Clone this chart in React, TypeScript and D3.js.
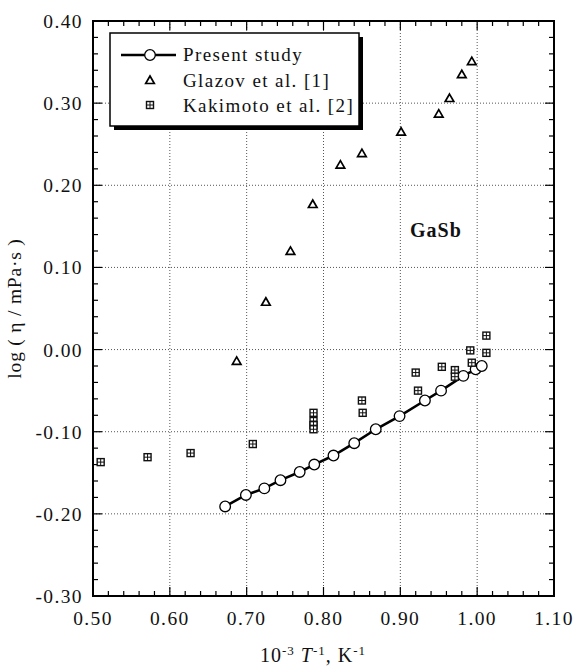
import React from "react";
import * as d3 from "d3";

// present study (circles + line)
const presentX = [0.672, 0.699, 0.723, 0.744, 0.769, 0.788, 0.813, 0.84, 0.868, 0.899, 0.932, 0.953, 0.982, 0.998, 1.006];
const presentY = [-0.191, -0.177, -0.169, -0.159, -0.149, -0.14, -0.129, -0.114, -0.097, -0.081, -0.062, -0.05, -0.032, -0.024, -0.02];

// Glazov et al. [1]
const glazovX = [0.687, 0.725, 0.757, 0.786, 0.822, 0.85, 0.901, 0.95, 0.964, 0.98, 0.993];
const glazovY = [-0.015, 0.057, 0.119, 0.176, 0.224, 0.238, 0.264, 0.286, 0.305, 0.334, 0.35];

// Kakimoto et al. [2]
const kakiX = [0.51, 0.571, 0.627, 0.708, 0.787, 0.787, 0.787, 0.787, 0.85, 0.851, 0.92, 0.923, 0.954, 0.971, 0.971, 0.991, 0.993, 1.012, 1.012];
const kakiY = [-0.137, -0.131, -0.126, -0.115, -0.077, -0.087, -0.092, -0.097, -0.062, -0.077, -0.028, -0.05, -0.021, -0.025, -0.033, -0.001, -0.016, 0.017, -0.004];

const xTicks = [0.5, 0.6, 0.7, 0.8, 0.9, 1.0, 1.1];
const yTicks = [-0.3, -0.2, -0.1, 0.0, 0.1, 0.2, 0.3, 0.4];

const W = 578;
const H = 668;
const L = 93, R = 554, T = 21, B = 596;
const FONT = "'Liberation Serif', 'Times New Roman', serif";

// hyphen instead of unicode minus, like the original
const fmt = (v: number) => d3.format(".2f")(v).replace("−", "-");

export default function App() {
  const x = d3.scaleLinear().domain([0.5, 1.1]).range([L, R]);
  const y = d3.scaleLinear().domain([-0.3, 0.4]).range([B, T]);

  const minorX = d3.range(0, 31).map((i) => 0.5 + i * 0.02);
  const minorY = d3.range(0, 36).map((i) => -0.3 + i * 0.02);

  const present = presentX.map((v, i) => [v, presentY[i]] as [number, number]);
  const glazov = glazovX.map((v, i) => [v, glazovY[i]] as [number, number]);
  const kaki = kakiX.map((v, i) => [v, kakiY[i]] as [number, number]);

  const line = d3.line<[number, number]>().x((d) => x(d[0])).y((d) => y(d[1]));
  const tri = d3.symbol(d3.symbolTriangle, 32)() as string;

  const Square = ({ cx, cy }: { cx: number; cy: number }) => (
    <g transform={`translate(${cx},${cy})`}>
      <rect x={-3.5} y={-3.5} width={7} height={7} fill="#fff" stroke="#111" strokeWidth={1.4} />
      <line x1={-3.5} x2={3.5} y1={0} y2={0} stroke="#111" strokeWidth={1} />
      <line x1={0} x2={0} y1={-3.5} y2={3.5} stroke="#111" strokeWidth={1} />
    </g>
  );

  const isMajor = (v: number) => Math.abs(v * 10 - Math.round(v * 10)) < 1e-6;

  return (
    <svg width={W} height={H} style={{ position: "absolute", left: 0, top: 0 }} fontFamily={FONT}>
      <rect width={W} height={H} fill="#fff" />
      {/* grid */}
      <g stroke="#555" strokeWidth={1} strokeDasharray="1,2">
        {xTicks.slice(1, -1).map((t) => (
          <line key={"gx" + t} x1={x(t)} x2={x(t)} y1={T} y2={B} />
        ))}
        {yTicks.slice(1, -1).map((t) => (
          <line key={"gy" + t} x1={L} x2={R} y1={y(t)} y2={y(t)} />
        ))}
      </g>
      {/* ticks */}
      <g stroke="#000" strokeWidth={1.2}>
        {minorX.map((t) => {
          const len = isMajor(t) ? 9 : 5;
          return (
            <g key={"tx" + t}>
              <line x1={x(t)} x2={x(t)} y1={B} y2={B - len} />
              <line x1={x(t)} x2={x(t)} y1={T} y2={T + len} />
            </g>
          );
        })}
        {minorY.map((t) => {
          const len = isMajor(t) ? 9 : 5;
          return (
            <g key={"ty" + t}>
              <line x1={L} x2={L + len} y1={y(t)} y2={y(t)} />
              <line x1={R} x2={R - len} y1={y(t)} y2={y(t)} />
            </g>
          );
        })}
      </g>
      <rect x={L} y={T} width={R - L} height={B - T} fill="none" stroke="#000" strokeWidth={2} />
      {/* tick labels */}
      <g fontSize={19.5} fill="#111" letterSpacing={1.4}>
        {xTicks.map((t) => (
          <text key={"lx" + t} x={x(t)} y={B + 29} textAnchor="middle">
            {fmt(t)}
          </text>
        ))}
        {yTicks.map((t) => (
          <text key={"ly" + t} x={L - 10} y={y(t) + 7} textAnchor="end">
            {fmt(t)}
          </text>
        ))}
      </g>
      {/* axis titles */}
      <text x={313} y={662} textAnchor="middle" fontSize={20} fill="#111" letterSpacing={1}>
        10<tspan fontSize={13} dy={-7}>-3</tspan>
        <tspan dy={7}> </tspan>
        <tspan fontStyle="italic">T</tspan>
        <tspan fontSize={13} dy={-7}>-1</tspan>
        <tspan dy={7}>, K</tspan>
        <tspan fontSize={13} dy={-7}>-1</tspan>
      </text>
      <text transform={`translate(21,${(T + B) / 2}) rotate(-90)`} textAnchor="middle" fontSize={19.5} fill="#111" letterSpacing={0.8}>
        log ( η / mPa·s )
      </text>
      {/* data */}
      <path d={line(present) || ""} fill="none" stroke="#000" strokeWidth={2.6} />
      {present.map((d, i) => (
        <circle key={"p" + i} cx={x(d[0])} cy={y(d[1])} r={5.3} fill="#fff" stroke="#000" strokeWidth={1.3} />
      ))}
      {glazov.map((d, i) => (
        <path key={"g" + i} d={tri} transform={`translate(${x(d[0])},${y(d[1])})`} fill="#fff" stroke="#000" strokeWidth={1.7} />
      ))}
      {kaki.map((d, i) => (
        <Square key={"k" + i} cx={x(d[0])} cy={y(d[1])} />
      ))}
      <text x={410} y={237} fontSize={20} fontWeight="bold" fill="#111" letterSpacing={1}>
        GaSb
      </text>
      {/* legend */}
      <rect x={114} y={37} width={249} height={93} fill="#000" />
      <rect x={110} y={33} width={249} height={93} fill="#fff" stroke="#000" strokeWidth={1.5} />
      <line x1={121} x2={176} y1={55} y2={55} stroke="#000" strokeWidth={2.6} />
      <circle cx={150} cy={55} r={5.3} fill="#fff" stroke="#000" strokeWidth={1.3} />
      <path d={tri} transform="translate(150,81)" fill="#fff" stroke="#000" strokeWidth={1.7} />
      <Square cx={150} cy={105} />
      <g fontSize={19} fill="#111" letterSpacing={1.4}>
        <text x={183} y={61}>Present study</text>
        <text x={183} y={87}>Glazov et al. [1]</text>
        <text x={183} y={112}>Kakimoto et al. [2]</text>
      </g>
    </svg>
  );
}
